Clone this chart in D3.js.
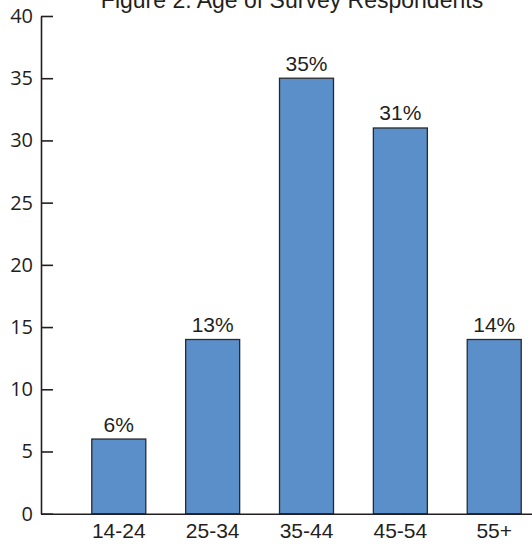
<!DOCTYPE html>
<html>
<head>
<meta charset="utf-8">
<script src="https://cdn.jsdelivr.net/npm/d3@7"></script>
<style>
  html, body { margin: 0; padding: 0; background: #fff; }
  svg { display: block; }
</style>
</head>
<body>
<svg id="chart" width="532" height="546"></svg>
<script>
const title = "Figure 2: Age of Survey Respondents";
const categories = ["14-24", "25-34", "35-44", "45-54", "55+"];
const values = [6, 14, 35, 31, 14];
const valueLabels = ["6%", "13%", "35%", "31%", "14%"];
const yTicks = [0, 5, 10, 15, 20, 25, 30, 35, 40];

const svg = d3.select("#chart");
const ink = "#231f20";

const x = d3.scaleBand()
  .domain(categories)
  .range([41, 532])
  .paddingInner(0.4246)
  .paddingOuter(0.328)
  .align(0.825);

const y = d3.scaleLinear().domain([0, 40]).range([513.7, 16]);

// title (cut off at the top edge, as in the reference)
svg.append("text")
  .attr("x", 292)
  .attr("y", 7.5)
  .attr("text-anchor", "middle")
  .attr("font-family", "'Liberation Sans', Arial, sans-serif")
  .attr("font-size", 23)
  .attr("fill", ink)
  .text(title);

// bars
const data = categories.map((c, i) => ({ c, v: values[i], label: valueLabels[i] }));
svg.append("g").selectAll("rect")
  .data(data)
  .join("rect")
  .attr("x", d => x(d.c))
  .attr("y", d => y(d.v))
  .attr("width", x.bandwidth())
  .attr("height", d => y(0) - y(d.v))
  .attr("fill", "#5b8fca")
  .attr("stroke", "#2a2a2a")
  .attr("stroke-width", 1.3);

// value labels
svg.append("g").selectAll("text")
  .data(data)
  .join("text")
  .attr("x", d => x(d.c) + x.bandwidth() / 2)
  .attr("y", d => y(d.v) - 7.5)
  .attr("text-anchor", "middle")
  .attr("font-family", "'Liberation Sans', Arial, sans-serif")
  .attr("font-size", 21)
  .attr("fill", ink)
  .text(d => d.label);

// y axis
const yAxis = svg.append("g")
  .attr("transform", "translate(41,0)")
  .call(d3.axisLeft(y).tickValues(yTicks).tickFormat(d3.format("d"))
    .tickSizeInner(-12).tickSizeOuter(0).tickPadding(8));
yAxis.selectAll("path, line").attr("stroke", ink).attr("stroke-width", 1.6);
yAxis.selectAll("text")
  .attr("font-family", "'Open Sans', 'Noto Sans', sans-serif")
  .attr("font-size", 20)
  .attr("fill", ink);

// x axis
const xAxis = svg.append("g")
  .attr("transform", `translate(0,${y(0)})`)
  .call(d3.axisBottom(x).tickSize(0).tickPadding(9.4));
xAxis.selectAll("path").attr("stroke", ink).attr("stroke-width", 1.6);
xAxis.selectAll("text")
  .attr("font-family", "'Liberation Sans', Arial, sans-serif")
  .attr("font-size", 21)
  .attr("fill", ink);
</script>
</body>
</html>
